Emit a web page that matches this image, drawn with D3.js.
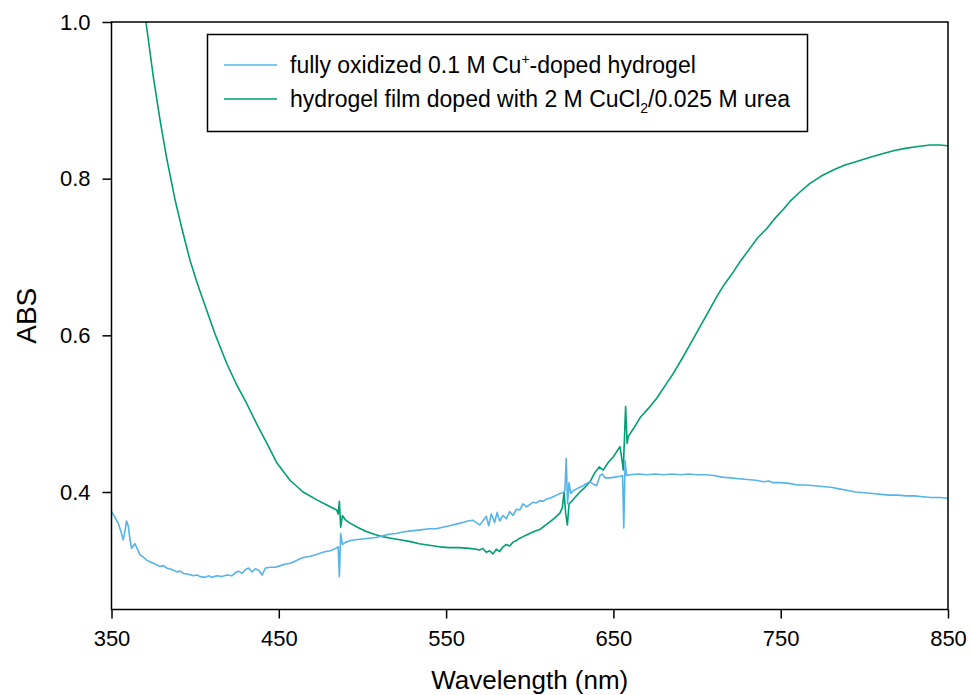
<!DOCTYPE html>
<html>
<head>
<meta charset="utf-8">
<script src="https://cdn.jsdelivr.net/npm/d3@7"></script>
<style>
  body { margin: 0; background: #fff; }
  text { font-family: "Liberation Sans", Arial, sans-serif; fill: #000; }
</style>
</head>
<body>
<svg id="chart"></svg>
<script>
// wavelength (nm) / ABS readings, oxidized Cu+-doped hydrogel
const blueWave = [350,352,354,356,357,358.2,359,360,361,362,363,364,365.5,367,369,371,373,376,379,381,383,386,389,391,393,396,399,401,403,406,408,410,413,416,419,422,424,426,428,430,432,434,436,438,440,442,445,448,451,454,457,460,463,466,469,472,475,478,481,484,485.5,486.2,487,488,490,493,496,500,504,508,512,516,520,524,528,532,536,540,544,548,552,556,560,563,566,568,570,572,574,575.5,577,579,580.5,582,584,586,588,590,592,594,596,598,600,602,604,606,608,610,612,614,616,618,620,621,621.8,622.6,623.5,624.5,626,628,630,632,634,636,638,640,642,643.5,645,648,651,654,655.5,656.2,657,657.8,660,665,670,675,680,685,690,695,700,705,710,715,720,725,730,735,740,743,745,750,755,760,765,770,775,780,785,790,795,800,805,810,815,820,825,830,835,840,845,850];
const blueAbs = [0.375,0.368,0.360,0.347,0.339,0.352,0.363,0.357,0.340,0.328,0.331,0.334,0.327,0.320,0.317,0.313,0.311,0.308,0.305,0.306,0.303,0.301,0.298,0.299,0.296,0.295,0.293,0.294,0.292,0.291,0.293,0.291,0.293,0.292,0.294,0.293,0.297,0.299,0.296,0.301,0.303,0.298,0.302,0.300,0.294,0.303,0.304,0.304,0.306,0.308,0.309,0.312,0.315,0.317,0.318,0.320,0.322,0.324,0.325,0.328,0.330,0.292,0.347,0.333,0.336,0.338,0.339,0.340,0.341,0.342,0.344,0.346,0.347,0.349,0.350,0.351,0.352,0.353,0.353,0.355,0.357,0.359,0.361,0.363,0.364,0.361,0.358,0.363,0.369,0.357,0.372,0.361,0.374,0.363,0.370,0.366,0.375,0.370,0.378,0.377,0.385,0.381,0.384,0.387,0.386,0.389,0.388,0.391,0.392,0.394,0.396,0.398,0.399,0.402,0.443,0.385,0.412,0.398,0.402,0.404,0.406,0.408,0.411,0.413,0.410,0.408,0.421,0.423,0.418,0.418,0.419,0.420,0.421,0.354,0.440,0.421,0.422,0.423,0.422,0.423,0.422,0.423,0.422,0.423,0.422,0.422,0.421,0.419,0.418,0.417,0.416,0.415,0.413,0.414,0.412,0.412,0.411,0.409,0.409,0.408,0.407,0.406,0.404,0.402,0.400,0.399,0.398,0.397,0.396,0.396,0.395,0.395,0.394,0.393,0.393,0.392];

// hydrogel film doped with CuCl2 / urea
const greenWave = [362,366,370.6,375,379,383,388,392,396.9,401,406.9,412,418.9,425,430.8,437,442.9,448.9,456.7,464.5,472.8,479,484.6,485.5,486.2,487,488,490,492.8,497,502,507,512,517,522.4,528,534,540,546,552,558,564,568,570,572,574,576,578,580,582,584,586,588,590,592,594,596,598,600,603,606,609,612,615,618,619.5,620.5,621.5,622.5,623.5,625,627,630,633,636,639,641.5,643.9,647,650,653.9,655.2,655.9,657.3,658.2,658.9,662,666,671.9,676,681.9,686,691.8,696,701.8,706,711.7,716,721.7,726,731.6,736,741.6,746,751.6,756,761.5,767.5,774,781.4,788,795.4,803,811.3,818,825.3,832,839.2,845,850];
const greenAbs = [1.12,1.06,1.0,0.93,0.875,0.826,0.773,0.737,0.696,0.668,0.632,0.601,0.564,0.536,0.513,0.486,0.462,0.437,0.415,0.400,0.390,0.383,0.377,0.372,0.388,0.355,0.370,0.364,0.360,0.355,0.350,0.346,0.343,0.341,0.339,0.337,0.334,0.332,0.330,0.329,0.329,0.328,0.327,0.326,0.328,0.323,0.325,0.321,0.327,0.324,0.330,0.333,0.331,0.336,0.338,0.341,0.343,0.345,0.347,0.350,0.352,0.357,0.362,0.367,0.373,0.380,0.400,0.372,0.358,0.385,0.388,0.393,0.400,0.406,0.413,0.425,0.432,0.428,0.438,0.445,0.458,0.440,0.428,0.509,0.462,0.471,0.481,0.495,0.509,0.520,0.539,0.552,0.573,0.589,0.611,0.627,0.649,0.664,0.681,0.695,0.711,0.724,0.736,0.748,0.761,0.772,0.783,0.794,0.803,0.811,0.817,0.822,0.827,0.832,0.836,0.839,0.841,0.843,0.843,0.842];

const xTicks = [350, 450, 550, 650, 750, 850];
const yTicks = [0.4, 0.6, 0.8, 1.0];
const legendLabels = ["fully oxidized 0.1 M Cu", "hydrogel film doped with 2 M CuCl"];

const W = 971, H = 695;
const margin = { top: 22, right: 23, bottom: 85.5, left: 111.5 };
const width = W - margin.left - margin.right;
const height = H - margin.top - margin.bottom;

const svg = d3.select('#chart').attr('width', W).attr('height', H);
const g = svg.append('g').attr('transform', `translate(${margin.left},${margin.top})`);

const x = d3.scaleLinear().domain([350, 850]).range([0, width]);
const y = d3.scaleLinear().domain([0.25, 1.0]).range([height, 0]);

g.append('defs').append('clipPath').attr('id', 'clip')
  .append('rect').attr('width', width).attr('height', height);

const line = d3.line().x(d => x(d[0])).y(d => y(d[1]));
const blue = blueWave.map((w, i) => [w, blueAbs[i]]);
const green = greenWave.map((w, i) => [w, greenAbs[i]]);

g.append('path').datum(green)
  .attr('clip-path', 'url(#clip)')
  .attr('fill', 'none').attr('stroke', '#009E73').attr('stroke-width', 1.6)
  .attr('stroke-linejoin', 'round')
  .attr('d', line);
g.append('path').datum(blue)
  .attr('clip-path', 'url(#clip)')
  .attr('fill', 'none').attr('stroke', '#56B4E9').attr('stroke-width', 1.6)
  .attr('stroke-linejoin', 'round')
  .attr('d', line);

// frame
g.append('rect').attr('width', width).attr('height', height)
  .attr('fill', 'none').attr('stroke', '#000').attr('stroke-width', 1.5);

const xAxis = g.append('g').attr('transform', `translate(0,${height})`)
  .call(d3.axisBottom(x).tickValues(xTicks).tickSize(9).tickPadding(12).tickFormat(d3.format('d')));
const yAxis = g.append('g')
  .call(d3.axisLeft(y).tickValues(yTicks).tickSize(9).tickPadding(12).tickFormat(d3.format('.1f')));

[xAxis, yAxis].forEach(a => {
  a.select('.domain').remove();
  a.selectAll('line').attr('stroke', '#000').attr('stroke-width', 1.5);
  a.selectAll('text').style('font-size', '22px').attr('fill', '#000')
    .style('font-family', '"Liberation Sans", Arial, sans-serif');
});

svg.append('text')
  .attr('x', margin.left + width / 2).attr('y', 689)
  .attr('text-anchor', 'middle').style('font-size', '26px')
  .text('Wavelength (nm)');
svg.append('text')
  .attr('transform', `translate(36,${margin.top + height / 2}) rotate(-90)`)
  .attr('text-anchor', 'middle').style('font-size', '28px')
  .text('ABS');

// legend
const lg = svg.append('g');
lg.append('rect').attr('x', 207.5).attr('y', 34.5).attr('width', 600).attr('height', 97)
  .attr('fill', '#fff').attr('stroke', '#000').attr('stroke-width', 1.5);
const items = [
  { color: '#56B4E9', y: 65 },
  { color: '#009E73', y: 99 }
];
items.forEach(it => {
  lg.append('line').attr('x1', 224).attr('x2', 277).attr('y1', it.y).attr('y2', it.y)
    .attr('stroke', it.color).attr('stroke-width', 1.6);
});
const t1 = lg.append('text').attr('x', 290).attr('y', 73).style('font-size', '23px');
t1.append('tspan').text(legendLabels[0]);
t1.append('tspan').attr('dy', -9).style('font-size', '14px').text('+');
t1.append('tspan').attr('dy', 9).text('-doped hydrogel');
const t2 = lg.append('text').attr('x', 290).attr('y', 107).style('font-size', '23px');
t2.append('tspan').text(legendLabels[1]);
t2.append('tspan').attr('dy', 6).style('font-size', '14px').text('2');
t2.append('tspan').attr('dy', -6).text('/0.025 M urea');
</script>
</body>
</html>
